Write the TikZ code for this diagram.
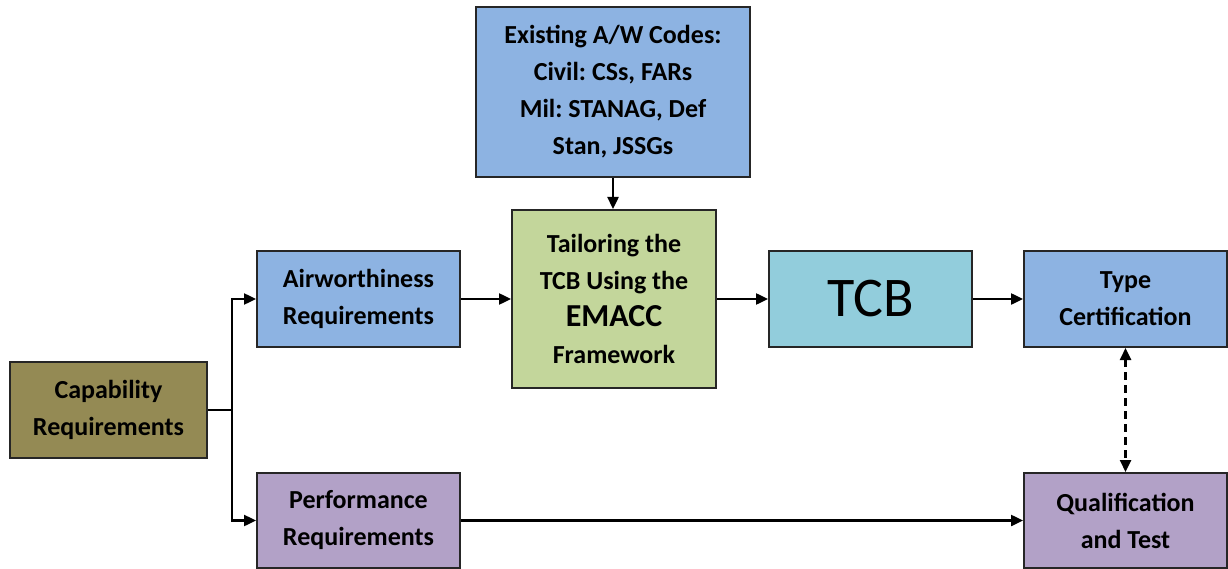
\documentclass[tikz,border=0pt]{standalone}
\usepackage{fontspec}
\setmainfont{Carlito}
\usetikzlibrary{arrows.meta}
\definecolor{olivebox}{HTML}{948A54}
\definecolor{bluebox}{HTML}{8DB3E2}
\definecolor{purplebox}{HTML}{B2A1C7}
\definecolor{greenbox}{HTML}{C3D69B}
\definecolor{aquabox}{HTML}{92CDDC}
\frenchspacing
\begin{document}
\begin{tikzpicture}[x=1pt,y=-1pt,>={Triangle[length=12pt,width=11pt]}]
            \useasboundingbox (0,0) rectangle (1228,569);
            \begin{scope}[
                    every node/.style={rectangle, draw=black!85, line width=2pt, align=center,
                        font=\fontsize{26}{37}\selectfont\bfseries, inner sep=0pt},
                    every path/.style={line width=2.4pt}
                ]

                \node[fill=olivebox, minimum width=197, minimum height=96] (cap) at (108.5,410) {Capability\\Requirements};
                \node[fill=bluebox, minimum width=203, minimum height=96] (air) at (358.5,299) {Airworthiness\\Requirements};
                \node[fill=purplebox, minimum width=203, minimum height=95] (perf) at (358.5,520.5) {Performance\\Requirements};
                \node[fill=bluebox, minimum width=274, minimum height=170] (codes) at (613,92) {Existing A/W Codes:\\Civil: CSs, FARs\\Mil: STANAG, Def\\Stan, JSSGs};
                \node[fill=greenbox, minimum width=204, minimum height=178] (tailor) at (614,299) {Tailoring the\\TCB Using the\\{\fontsize{32}{42}\selectfont EMACC}\\Framework};
                \node[fill=aquabox, minimum width=203, minimum height=96, font=\fontsize{56}{58}\selectfont] (tcb) at (870.5,299) {TCB};
                \node[fill=bluebox, minimum width=203, minimum height=96] (type) at (1125.5,299) {Type\\Certification};
                \node[fill=purplebox, minimum width=203, minimum height=95] (qual) at (1125.5,520.5) {Qualification\\and Test};

                \coordinate (split) at (232,410);

                \draw (cap) -- (split);
                \draw[->] (split) |- (air);
                \draw[->] (split) |- (perf);
                \draw[->] (air) -- (tailor);
                \draw[->] (codes.south) -- (codes.south |- tailor.north);
                \draw[->] (tailor) -- (tcb);
                \draw[->] (tcb) -- (type);
                \draw[->] (perf) -- (qual);
                \draw[<->, dash pattern=on 8pt off 5pt] (type) -- (qual);
            \end{scope}
        \end{tikzpicture}
\end{document}
